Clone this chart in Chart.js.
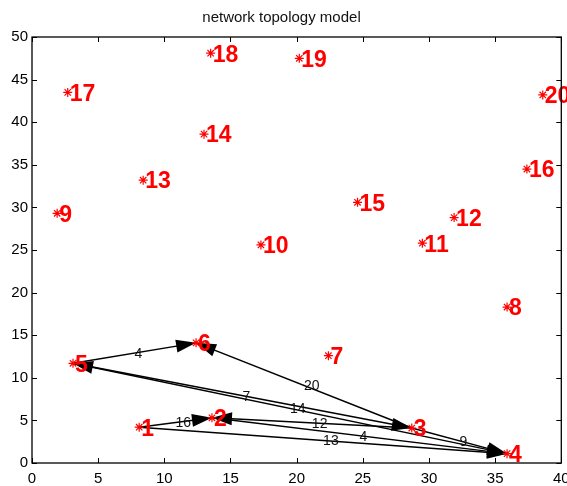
<!DOCTYPE html>
<html>
<head>
<meta charset="utf-8">
<script src="https://cdn.jsdelivr.net/npm/chart.js@4/dist/chart.umd.min.js"></script>
<style>
  html, body { margin: 0; padding: 0; background: #fff; }
  #wrap { width: 567px; height: 486px; }
</style>
</head>
<body>
<div id="wrap"><canvas id="c" width="567" height="486"></canvas></div>
<script>
// ---- data ----
const nodeIds = [1,2,3,4,5,6,7,8,9,10,11,12,13,14,15,16,17,18,19,20];
const nodeX = [8.1,13.6,28.7,35.9,3.1,12.4,22.4,35.9,1.9,17.3,29.5,31.9,8.4,13.0,24.6,37.4,2.7,13.5,20.2,38.6];
const nodeY = [4.2,5.3,4.1,1.1,11.7,14.1,12.6,18.3,29.3,25.6,25.8,28.8,33.2,38.6,30.6,34.5,43.5,48.1,47.5,43.2];

// directed edges: from, to, weight
const edgeFrom   = [1, 1, 2, 3, 3, 5, 3, 5, 4];
const edgeTo     = [2, 4, 4, 2, 4, 6, 6, 3, 5];
const edgeWeight = [16,13, 4,12, 9, 4,20, 7,14];

const xTicks = [0,5,10,15,20,25,30,35,40];
const yTicks = [0,5,10,15,20,25,30,35,40,45,50];

const titleText = 'network topology model';

// ---- datasets ----
const nodePoints = nodeIds.map((id, i) => ({x: nodeX[i], y: nodeY[i]}));
const edgeDatasets = edgeFrom.map((f, k) => ({
  type: 'line',
  label: 'edge ' + f + '-' + edgeTo[k],
  data: [nodePoints[f-1], nodePoints[edgeTo[k]-1]],
  borderColor: '#000',
  borderWidth: 1.5,
  pointRadius: 0,
  fill: false,
  tension: 0,
  order: 2
}));

const FONT = '"Liberation Sans", Arial, Helvetica, sans-serif';

const topoPlugin = {
  id: 'topo',
  beforeDatasetsDraw(chart) {
    const ctx = chart.ctx;
    const xs = chart.scales.x, ys = chart.scales.y;
    ctx.save();
    ctx.fillStyle = '#000';
    edgeFrom.forEach((f, k) => {
      const t = edgeTo[k];
      const x1 = xs.getPixelForValue(nodeX[f-1]), y1 = ys.getPixelForValue(nodeY[f-1]);
      const x2 = xs.getPixelForValue(nodeX[t-1]), y2 = ys.getPixelForValue(nodeY[t-1]);
      const a = Math.atan2(y2 - y1, x2 - x1);
      const L = 20, W = 6.5;
      const bx = x2 - L * Math.cos(a), by = y2 - L * Math.sin(a);
      ctx.beginPath();
      ctx.moveTo(x2, y2);
      ctx.lineTo(bx + W * Math.sin(a), by - W * Math.cos(a));
      ctx.lineTo(bx - W * Math.sin(a), by + W * Math.cos(a));
      ctx.closePath();
      ctx.fill();
    });
    ctx.restore();
  },
  afterDatasetsDraw(chart) {
    const ctx = chart.ctx;
    const xs = chart.scales.x, ys = chart.scales.y;
    const ca = chart.chartArea;
    ctx.save();
    // edge weight labels
    ctx.fillStyle = '#111';
    ctx.font = '14px ' + FONT;
    ctx.textAlign = 'left';
    ctx.textBaseline = 'middle';
    edgeFrom.forEach((f, k) => {
      const t = edgeTo[k];
      const mx = (nodeX[f-1] + nodeX[t-1]) / 2, my = (nodeY[f-1] + nodeY[t-1]) / 2;
      ctx.fillText(String(edgeWeight[k]), xs.getPixelForValue(mx), ys.getPixelForValue(my) + 1);
    });
    // node labels
    ctx.fillStyle = '#ff0000';
    ctx.font = 'bold 23px ' + FONT;
    nodeIds.forEach((id, i) => {
      ctx.fillText(String(id), xs.getPixelForValue(nodeX[i]) + 2, ys.getPixelForValue(nodeY[i]) + 2);
    });
    // box
    ctx.strokeStyle = '#000';
    ctx.lineWidth = 1.3;
    ctx.strokeRect(ca.left, ca.top, ca.right - ca.left, ca.bottom - ca.top);
    // inward ticks on all four sides
    ctx.lineWidth = 1;
    const tl = 5;
    ctx.beginPath();
    xTicks.forEach(v => {
      const px = Math.round(xs.getPixelForValue(v)) + 0.5;
      ctx.moveTo(px, ca.bottom); ctx.lineTo(px, ca.bottom - tl);
      ctx.moveTo(px, ca.top); ctx.lineTo(px, ca.top + tl);
    });
    yTicks.forEach(v => {
      const py = Math.round(ys.getPixelForValue(v)) + 0.5;
      ctx.moveTo(ca.left, py); ctx.lineTo(ca.left + tl, py);
      ctx.moveTo(ca.right, py); ctx.lineTo(ca.right - tl, py);
    });
    ctx.stroke();
    ctx.restore();
  }
};

new Chart(document.getElementById('c'), {
  type: 'scatter',
  data: {
    datasets: [
      {
        label: 'nodes',
        data: nodePoints,
        pointStyle: 'star',
        pointRadius: 4.5,
        pointHoverRadius: 4.5,
        borderColor: '#ff0000',
        backgroundColor: '#ff0000',
        pointBorderWidth: 1.2,
        showLine: false,
        order: 1
      },
      ...edgeDatasets
    ]
  },
  options: {
    responsive: false,
    animation: false,
    events: [],
    layout: { padding: { left: 0, right: 4, top: 0, bottom: 0 } },
    plugins: {
      legend: { display: false },
      tooltip: { enabled: false },
      title: {
        display: true,
        text: titleText,
        color: '#111',
        font: { family: FONT, size: 15, weight: 'normal' },
        padding: { top: 9, bottom: 10 }
      }
    },
    scales: {
      x: {
        type: 'linear',
        min: 0, max: 40,
        afterBuildTicks(s) { s.ticks = xTicks.map(v => ({ value: v })); },
        ticks: { color: '#000', font: { family: FONT, size: 15 }, padding: 7, maxRotation: 0, autoSkip: false },
        grid: { display: false, drawTicks: false },
        border: { display: false },
        afterFit(s) { s.height = 23; s.paddingLeft = 0; s.paddingRight = 0; }
      },
      y: {
        type: 'linear',
        min: 0, max: 50,
        afterBuildTicks(s) { s.ticks = yTicks.map(v => ({ value: v })); },
        ticks: { color: '#000', font: { family: FONT, size: 15 }, padding: 4, autoSkip: false },
        grid: { display: false, drawTicks: false },
        border: { display: false },
        afterFit(s) { s.width = 32; s.paddingTop = 0; s.paddingBottom = 0; }
      }
    }
  },
  plugins: [topoPlugin]
});
</script>
</body>
</html>
